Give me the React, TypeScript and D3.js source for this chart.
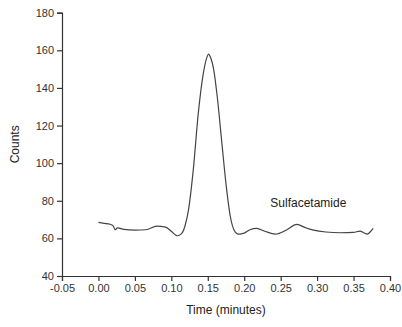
import React, { useEffect, useRef } from 'react'
import * as d3 from 'd3'

// time (minutes) and counts
const times = [0.0, 0.008, 0.016, 0.02, 0.023, 0.026, 0.035, 0.05, 0.065, 0.08, 0.092, 0.1, 0.108, 0.114, 0.119, 0.1235, 0.13, 0.137, 0.144, 0.149, 0.151, 0.154, 0.158, 0.163, 0.169, 0.175, 0.181, 0.186, 0.192, 0.2, 0.208, 0.217, 0.228, 0.243, 0.258, 0.272, 0.285, 0.295, 0.312, 0.332, 0.35, 0.359, 0.364, 0.369, 0.373, 0.377]
const counts = [68.5, 68.0, 67.5, 66.8, 64.6, 65.6, 64.8, 64.4, 64.6, 66.5, 66.0, 63.8, 61.4, 62.5, 67.0, 75.0, 96.0, 126.6, 148.0, 156.5, 158.0, 156.0, 150.0, 135.3, 112.0, 89.0, 71.5, 64.5, 62.3, 62.8, 64.6, 65.3, 63.8, 62.3, 64.5, 67.5, 65.5, 64.4, 63.4, 63.0, 63.2, 63.9, 63.0, 62.3, 63.5, 65.3]

const xTicks = [-0.05, 0.0, 0.05, 0.1, 0.15, 0.2, 0.25, 0.3, 0.35, 0.4]
const yTicks = [40, 60, 80, 100, 120, 140, 160, 180]
const peakLabel = 'Sulfacetamide'

export default function App() {
  const svgRef = useRef<SVGSVGElement>(null)

  useEffect(() => {
    const svg = d3.select(svgRef.current)
    svg.selectAll('*').remove()

    const x = d3.scaleLinear().domain([-0.05, 0.4]).range([62, 390])
    const y = d3.scaleLinear().domain([40, 180]).range([276, 12.7])
    const font = 'Liberation Sans, Arial, sans-serif'
    const axisColor = '#333'

    // x axis
    const gx = svg.append('g').attr('transform', `translate(0,${y(40)})`)
    gx.call(d3.axisBottom(x).tickValues(d3.range(-0.025, 0.4, 0.05)).tickSize(3).tickFormat(() => ''))
    gx.call(d3.axisBottom(x).tickValues(xTicks).tickSize(5).tickPadding(3).tickFormat(d => (+d).toFixed(2)))
    gx.selectAll('path, line').attr('stroke', axisColor).attr('stroke-width', 1.2)
    gx.selectAll('text').attr('font-family', font).attr('font-size', 11).attr('fill', '#333')

    // y axis
    const gy = svg.append('g').attr('transform', `translate(${x(-0.05)},0)`)
    gy.call(d3.axisLeft(y).tickValues(d3.range(50, 180, 20)).tickSize(3).tickFormat(() => ''))
    gy.call(d3.axisLeft(y).tickValues(yTicks).tickSize(5).tickPadding(3).tickFormat(d3.format('d')))
    gy.selectAll('path, line').attr('stroke', axisColor).attr('stroke-width', 1.2)
    gy.selectAll('text').attr('font-family', font).attr('font-size', 11).attr('fill', '#333')

    // trace
    const pts: [number, number][] = times.map((t, i) => [t, counts[i]])
    svg.append('path')
      .datum(pts)
      .attr('fill', 'none')
      .attr('stroke', '#444')
      .attr('stroke-width', 1.2)
      .attr('d', d3.line<[number, number]>().x(d => x(d[0])).y(d => y(d[1])).curve(d3.curveMonotoneX))

    svg.append('text')
      .attr('x', x(0.288)).attr('y', y(76.5))
      .attr('text-anchor', 'middle')
      .attr('font-family', font).attr('font-size', 12).attr('fill', '#222')
      .text(peakLabel)

    svg.append('text')
      .attr('x', (x(-0.05) + x(0.4)) / 2).attr('y', 314)
      .attr('text-anchor', 'middle')
      .attr('font-family', font).attr('font-size', 12).attr('fill', '#222')
      .text('Time (minutes)')

    svg.append('text')
      .attr('transform', `translate(19,${(y(40) + y(180)) / 2}) rotate(-90)`)
      .attr('text-anchor', 'middle')
      .attr('font-family', font).attr('font-size', 12).attr('fill', '#222')
      .text('Counts')
  }, [])

  return (
    <svg ref={svgRef} width={402} height={327}
      style={{ position: 'absolute', left: 0, top: 0, background: '#fff' }} />
  )
}
